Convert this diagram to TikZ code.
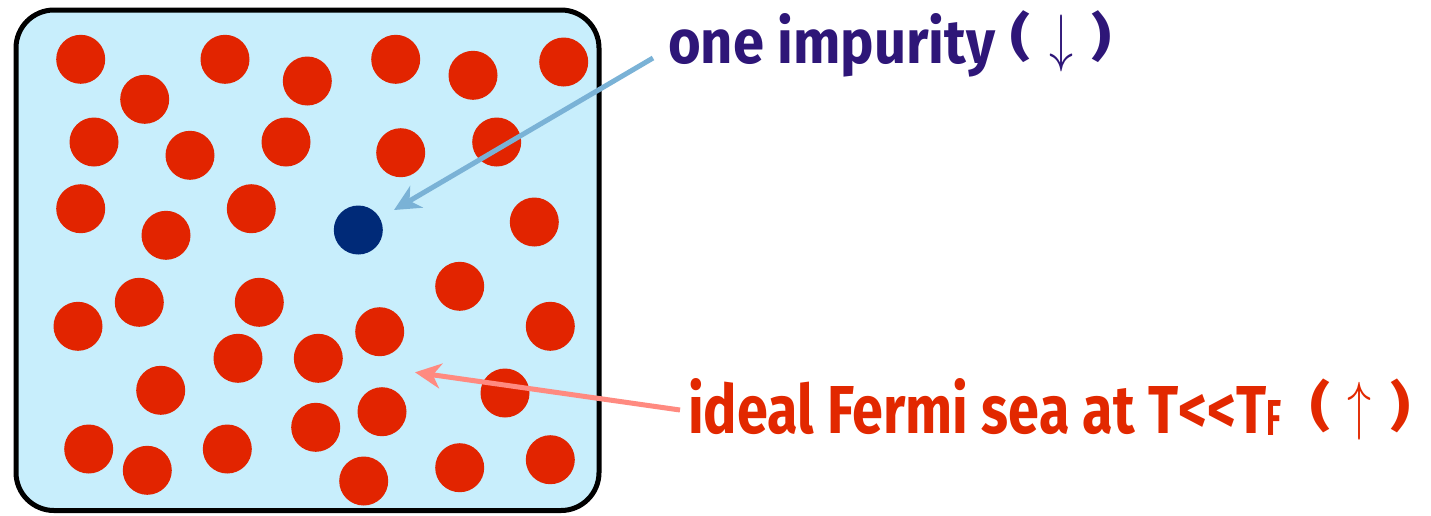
\documentclass[tikz,border=0pt]{standalone}
\usepackage{fontspec}
\setmainfont{Fira Sans}
\usepackage{graphicx}
\usetikzlibrary{arrows.meta}
\definecolor{seabg}{RGB}{200,238,252}
\definecolor{dotred}{RGB}{226,36,0}
\definecolor{impblue}{RGB}{0,42,120}
\definecolor{arrblue}{RGB}{122,178,214}
\definecolor{arrpink}{RGB}{255,138,128}
\definecolor{txtpurple}{RGB}{46,22,120}
\definecolor{txtred}{RGB}{226,40,0}
\begin{document}
\begin{tikzpicture}[x=1pt,y=-1pt,
  fermion/.style={circle, fill=dotred, minimum size=49pt, inner sep=0pt},
  impurity/.style={circle, fill=impblue, minimum size=49pt, inner sep=0pt},
  labeltext/.style={anchor=base west, inner sep=0pt, font=\bfseries\fontsize{60}{60}\selectfont},
  pointer/.style={line width=5pt, -{Stealth[length=26pt, width=25pt, inset=8pt]}}]
\path[use as bounding box] (0,0) rectangle (1431,515);
\draw[line width=5pt, fill=seabg, rounded corners=38pt] (16,10) rectangle (599,510.5);
% Fermi sea
\foreach \x/\y [count=\i] in {
  80.7/59.3, 225/59.3, 307.3/81, 144.7/99.3, 94/142, 190/155.3, 286/142,
  80.7/208.7, 166/235.3, 251.3/208.7,
  395.7/59.3, 473/75.3, 563.7/62, 400.7/152.7, 496.7/142, 534.3/222,
  139.3/302.3, 259.3/302.3, 78/326.3, 238/358.3, 160.7/390.3, 88.7/449, 147.3/470.3, 227.3/449,
  459.7/286.3, 550.3/326.3, 379.7/331.7, 318.3/358.3, 505/393, 382/411.7, 315.7/427.3,
  363.7/481, 459.7/467.7, 550.3/459.7}
  \node[fermion] (d\i) at (\x,\y) {};
\node[impurity] (imp) at (358.3,230) {};
% labels
\node[labeltext, text=txtpurple] (t1) at (668,63)
  {\resizebox{327pt}{50pt}{one impurity}\hspace{15pt}\raisebox{\depth}{\resizebox*{20pt}{52pt}{(}}\hspace{19pt}\raisebox{\dimexpr\depth-9pt}{\resizebox*{24pt}{57pt}{$\downarrow$}}\hspace{18pt}\raisebox{\depth}{\resizebox*{20pt}{52pt}{)}}};
\node[labeltext, text=txtred] (t2) at (688,433)
  {\resizebox{578pt}{55pt}{ideal Fermi sea at T<{}<T}\raisebox{-2pt}{\resizebox{15pt}{35pt}{F}}\hspace{29pt}\raisebox{\depth}{\resizebox*{20pt}{54pt}{(}}\hspace{17pt}\raisebox{\dimexpr\depth-7pt}{\resizebox*{24pt}{58pt}{$\uparrow$}}\hspace{19pt}\raisebox{\depth}{\resizebox*{20pt}{54pt}{)}}};
% connectors
\coordinate (p1s) at (653,58);
\coordinate (p1e) at (394,210);
\coordinate (p2s) at (680,410);
\coordinate (p2e) at (415,372.3);
\draw[pointer, arrblue] (p1s) -- (p1e);
\draw[pointer, arrpink] (p2s) -- (p2e);
\end{tikzpicture}
\end{document}
